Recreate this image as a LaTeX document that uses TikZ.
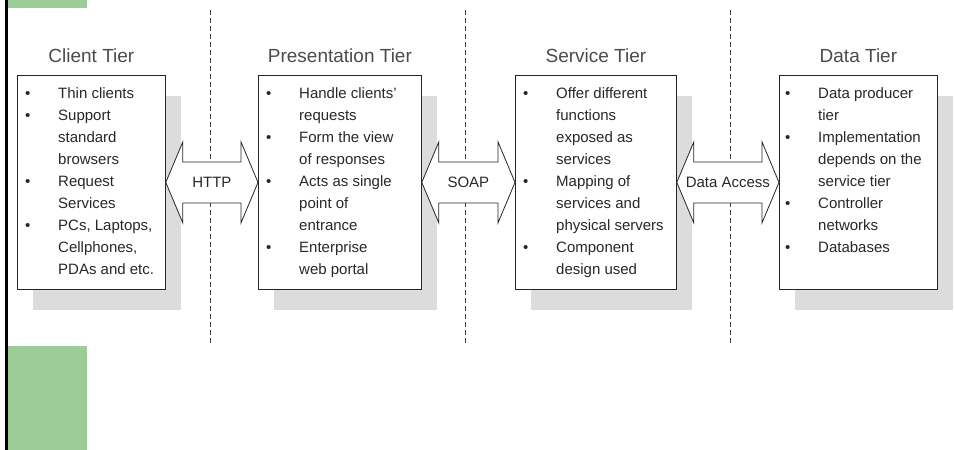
\documentclass[tikz,border=0pt]{standalone}
\usepackage{fontspec}
\setmainfont{Liberation Sans}
\usetikzlibrary{positioning,calc,shadows}

\definecolor{greenbar}{RGB}{156,204,152}
\definecolor{listgray}{RGB}{40,40,40}
\definecolor{titlegray}{RGB}{75,75,75}
\definecolor{shadowgray}{RGB}{220,220,220}

\tikzset{
  tierbox/.style={draw=black!85, fill=white, line width=0.8pt, minimum height=214pt,
    inner sep=0pt, anchor=north west,
    drop shadow={shadow xshift=16pt, shadow yshift=-21pt, fill=shadowgray, opacity=1}},
  tiername/.style={inner sep=0pt, text=titlegray, font=\fontsize{19}{22}\selectfont},
  tierlist/.style={inner sep=0pt, anchor=north west, text=listgray,
    font=\fontsize{15}{22}\selectfont},
  link/.style={draw=black!85, fill=white, line width=0.8pt},
  linklabel/.style={inner sep=0pt, text=listgray, font=\fontsize{15}{18}\selectfont},
  tiersep/.style={draw=black!75, line width=0.8pt, dash pattern=on 5pt off 3pt},
}

% double arrow between two tiers: from, to, name, label
\newcommand{\tierlink}[4]{%
  \draw[link] let \p1=(#1.east), \p2=(#2.west) in
    (\p1) -- (\x1+17pt,\y1+40.5pt) -- (\x1+17pt,\y1+20.5pt)
    -- (\x2-17pt,\y1+20.5pt) -- (\x2-17pt,\y1+40.5pt) -- (\p2)
    -- (\x2-17pt,\y1-40.5pt) -- (\x2-17pt,\y1-20.5pt)
    -- (\x1+17pt,\y1-20.5pt) -- (\x1+17pt,\y1-40.5pt) -- cycle;
  \node[linklabel] (#3) at ($(#1.east)!0.5!(#2.west)$) {#4};
}
\newcommand{\bul}{\textbullet}

\begin{document}
\begin{tikzpicture}[x=1pt,y=-1pt]
    \useasboundingbox (0,0) rectangle (954,450);
    % page decoration
    \fill[black] (5,0) rectangle (8,450);
    \fill[greenbar] (8,0) rectangle (87,8);
    \fill[greenbar] (8,346) rectangle (87,450);
    % tier separators
    \foreach \sx in {210,465,730}
      \draw[tiersep] (\sx,10) -- (\sx,345);

    % tiers
    \node[tierbox, minimum width=148pt] (client) at (17,75) {};
    \node[tierbox, minimum width=163pt] (pres) at (258,75) {};
    \node[tierbox, minimum width=161pt] (service) at (515,75) {};
    \node[tierbox, minimum width=158pt] (data) at (779,75) {};

    \node[tiername, above=12pt of client.north] (clientname) {Client Tier};
    \node[tiername, above=12pt of pres.north] (presname) {Presentation Tier};
    \node[tiername, above=12pt of service.north] (servicename) {Service Tier};
    \node[tiername, above=12pt of data.north] (dataname) {Data Tier};

    \node[tierlist] (clientlist) at ([shift={(8pt,-8pt)}]client.north west) {%
      \begin{tabular}{@{}p{33pt}@{}l@{}}
      \bul & Thin clients\\
      \bul & Support\\
           & standard\\
           & browsers\\
      \bul & Request\\
           & Services\\
      \bul & PCs, Laptops,\\
           & Cellphones,\\
           & PDAs and etc.
      \end{tabular}};
    \node[tierlist] (preslist) at ([shift={(8pt,-8pt)}]pres.north west) {%
      \begin{tabular}{@{}p{33pt}@{}l@{}}
      \bul & Handle clients'\\
           & requests\\
      \bul & Form the view\\
           & of responses\\
      \bul & Acts as single\\
           & point of\\
           & entrance\\
      \bul & Enterprise\\
           & web portal
      \end{tabular}};
    \node[tierlist] (servicelist) at ([shift={(8pt,-8pt)}]service.north west) {%
      \begin{tabular}{@{}p{33pt}@{}l@{}}
      \bul & Offer different\\
           & functions\\
           & exposed as\\
           & services\\
      \bul & Mapping of\\
           & services and\\
           & physical servers\\
      \bul & Component\\
           & design used
      \end{tabular}};
    \node[tierlist] (datalist) at ([shift={(6pt,-8pt)}]data.north west) {%
      \begin{tabular}{@{}p{33pt}@{}l@{}}
      \bul & Data producer\\
           & tier\\
      \bul & Implementation\\
           & depends on the\\
           & service tier\\
      \bul & Controller\\
           & networks\\
      \bul & Databases
      \end{tabular}};

    % links
    \tierlink{client}{pres}{http}{HTTP}
    \tierlink{pres}{service}{soap}{SOAP}
    \tierlink{service}{data}{dacc}{Data Access}
\end{tikzpicture}
\end{document}
